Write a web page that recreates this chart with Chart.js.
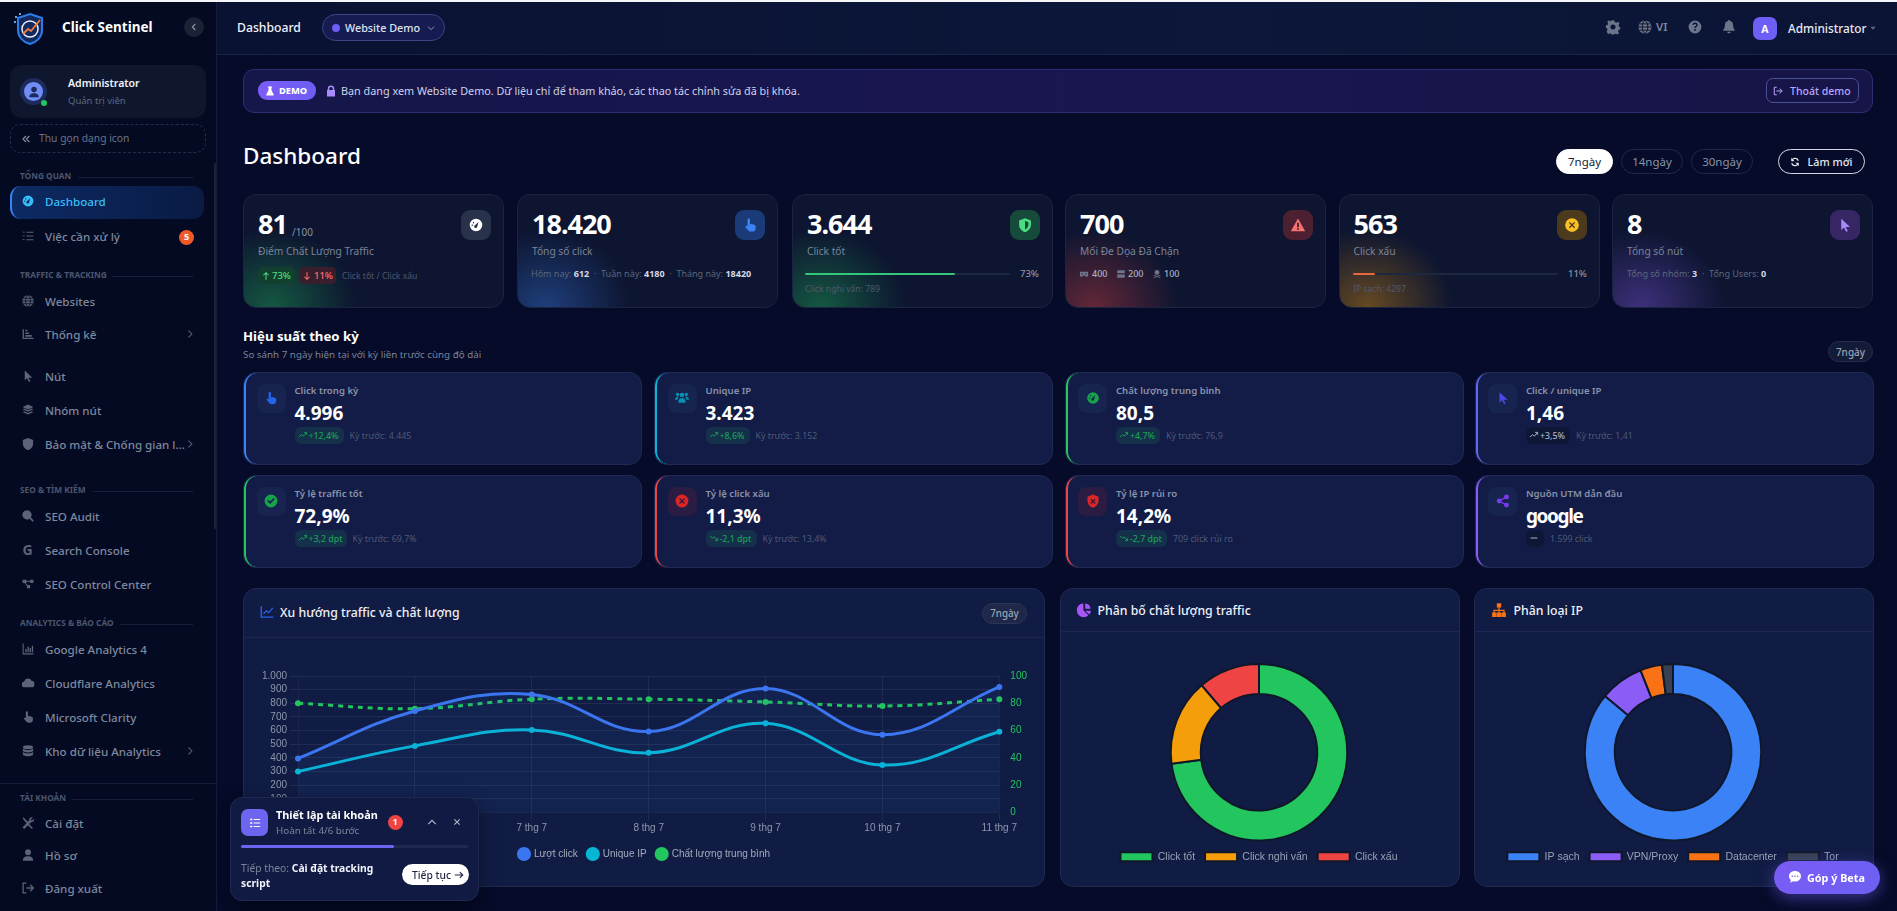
<!DOCTYPE html>
<html lang="vi">
<head>
<meta charset="utf-8">
<title>Dashboard - Click Sentinel</title>
<script src="https://cdn.jsdelivr.net/npm/chart.js@4/dist/chart.umd.min.js"></script>
<style>
* { box-sizing: border-box; }
html, body { margin: 0; height: 100%; overflow: hidden; background: #050b28; font-family: "Noto Sans", sans-serif; color: #fff; }
#app { position: relative; width: 1897px; height: 911px; overflow: hidden; border-top: 2px solid #f4f6fa; }
#page { position: absolute; left: 0; top: -2px; width: 1897px; height: 911px; }
.box { position: absolute; }
.t { position: absolute; white-space: nowrap; transform: translateY(-50%); line-height: 1.2; }
.ic { position: absolute; transform: translate(-50%, -50%); display: block; }
#side { position: absolute; left: 0; top: 0; width: 217px; height: 911px; background: #040a22; border-right: 1px solid #141c3a; }
#head { position: absolute; left: 217px; top: 0; width: 1680px; height: 55px; background: linear-gradient(90deg, #0a1233, #0c1739 60%, #0b1435); border-bottom: 1px solid #1a2448; }
.kpi { background: #0d1530; border: 1px solid #1a2340; border-radius: 13px; overflow: hidden; }
.perf { background: #121c46; border: 1px solid #1f2a54; border-radius: 13px; overflow: hidden; }
.perf .edge { position: absolute; left: 0; top: 0; bottom: 0; width: 13px; border-left: 2px solid; border-radius: 13px 0 0 13px; }
.card { background: #111c44; border: 1px solid #1f2952; border-radius: 13px; }
.pill { position: absolute; border-radius: 14px; border: 1px solid #1f2947; color: #8b94a8; display: flex; align-items: center; justify-content: center; font-size: 11.5px; }
canvas { display: block; }
</style>
</head>
<body>
<div id="app"><div id="page">
  <div id="side"></div>
  <div id="head"></div>
  <div id="main"></div>
  <div class="box" style="left:1059px;top:663px;width:400px;height:209px;z-index:3"><canvas id="qualityChart"></canvas></div>
  <div class="box" style="left:1473px;top:663px;width:400px;height:209px;z-index:3"><canvas id="ipChart"></canvas></div>
  <div class="box" style="left:258.5px;top:667px;width:771px;height:202px;z-index:3"><canvas id="trendChart"></canvas></div>
  <div id="over"></div>
</div></div>

<script>
// chart data
const trendDays = ["5 thg 7", "6 thg 7", "7 thg 7", "8 thg 7", "9 thg 7", "10 thg 7", "11 thg 7"];
const clickValues = [396, 744, 865, 593, 908, 570, 920];
const uniqueValues = [300, 488, 605, 437, 653, 348, 592];
const qualityValues = [80, 76, 83, 83, 81, 78, 83];

const qualityLabels = ["Click tốt", "Click nghi vấn", "Click xấu"];
const qualityCounts = [3644, 789, 563];
const qualityColors = ["#22c55e", "#f59e0b", "#ef4444"];

const ipLabels = ["IP sạch", "VPN/Proxy", "Datacenter", "Tor"];
const ipCounts = [4297, 400, 200, 100];
const ipColors = ["#3b82f6", "#8b5cf6", "#f97316", "#374151"];

// icons
const ICONS = {
  gauge: '<path fill-rule="evenodd" d="M12 2a10 10 0 1 0 0 20 10 10 0 0 0 0-20zm1.8 13a2.4 2.4 0 1 1-3-3L16 7zM6 11a1.2 1.2 0 1 1 0 2.4A1.2 1.2 0 0 1 6 11zm2-4a1.2 1.2 0 1 1 0 2.4A1.2 1.2 0 0 1 8 7z"/>',
  tasks: '<path d="M2 4h4v1.6H2zM2 11h4v1.6H2zM2 18h4v1.6H2zM9 4h13v2H9zM9 11h13v2H9zM9 18h13v2H9z"/>',
  globe: '<circle cx="12" cy="12" r="10.5"/><path fill="none" stroke="#050a23" stroke-width="1.4" d="M1 12h22M12 1c-6 6-6 16 0 22M12 1c6 6 6 16 0 22M3 7h18M3 17h18"/>',
  chart: '<path d="M2 3h2.5v16H22v2.4H2zM7 14h12v3H7zM7 9h7v3H7zM7 4h4v3H7z"/>',
  cursor: '<path d="M6 2l14 13h-7l3.6 6.5-2.8 1.4L10.4 16 6 20z"/>',
  layers: '<path d="M12 2l10 4.6-10 4.6L2 6.6zM2 10.5l3-1.3 7 3.2 7-3.2 3 1.3-10 4.6zM2 15.5l3-1.3 7 3.2 7-3.2 3 1.3-10 5z"/>',
  shield: '<path d="M12 1l9.5 3.6V11c0 6-4 10.5-9.5 12.5C6.5 21.5 2.5 17 2.5 11V4.6z"/>',
  search: '<path fill-rule="evenodd" d="M10 1.5a8.5 8.5 0 1 0 5 15.4l5.5 5.6 2.3-2.3-5.6-5.5A8.5 8.5 0 0 0 10 1.5z"/>',
  nodes: '<path d="M2 4h7v6H2zM16 4h6v6h-6zM10 14h6v6h-6zM8 6h9v2H8zM7 9l5 6-1.5 1-5-6z"/>',
  bars: '<path d="M2 2h2v18h18v2H2zM7 12h2.5v6H7zM11 8h2.5v10H11zM15 10h2.5v8H15zM19 6h2.5v12H19z"/>',
  cloud: '<path d="M6 20a5.5 5.5 0 0 1-1-10.9A7 7 0 0 1 18.4 8 6 6 0 0 1 18 20z"/>',
  hand: '<path d="M10 1.5a2 2 0 0 1 2 2V11l1-.2c.8-1 2.4-.8 3 .2.9-.6 2.4-.2 2.8 1 1.2-.2 2.2.6 2.2 2v3c0 3.5-2 5.5-5 5.5h-3c-2 0-3.2-.8-4.2-2l-4-5c-1-1.4.8-3 2.2-2L8 14.5v-11a2 2 0 0 1 2-2z"/>',
  database: '<ellipse cx="12" cy="5" rx="9.5" ry="3.5"/><path d="M2.5 7.5c2 3.5 17 3.5 19 0V12c-2 3.5-17 3.5-19 0zM2.5 14c2 3.5 17 3.5 19 0v4.5c-2 4.5-17 4.5-19 0z"/>',
  tools: '<path d="M3 1l7 7 1.5 1.5 3-3C14 3 17 .5 21 2l-4 4 2 2 4-4c1 4-2 7-5.5 6.5L14 14l7 7-2 2-7-7-7 7-3-3 7.5-7.5L3 5z"/>',
  user: '<circle cx="12" cy="7" r="5.5"/><path d="M2.5 22.5c0-6 4-8 9.5-8s9.5 2 9.5 8z"/>',
  logout: '<path fill="none" stroke="currentColor" stroke-width="2.4" d="M9 3H3v18h6M9 12h13M16 6l6 6-6 6"/>',
  chevR: '<path fill="none" stroke="currentColor" stroke-width="2.8" d="M8 3l9 9-9 9"/>',
  chevL: '<path fill="none" stroke="currentColor" stroke-width="3.2" d="M16 3l-9 9 9 9"/>',
  chevU: '<path fill="none" stroke="currentColor" stroke-width="3" d="M3 17l9-9 9 9"/>',
  chevD: '<path fill="none" stroke="currentColor" stroke-width="3" d="M3 8l9 9 9-9"/>',
  dbl: '<path fill="none" stroke="currentColor" stroke-width="3" d="M12 4l-8 8 8 8M21 4l-8 8 8 8"/>',
  close: '<path fill="none" stroke="currentColor" stroke-width="3.4" d="M4 4l16 16M20 4L4 20"/>',
  caret: '<path d="M3 8h18l-9 10z"/>',
  gear: '<path fill-rule="evenodd" d="M10 1h4l.6 3 2.6 1.1L20 3.4l2.6 3.1-1.8 2.5.8 2.5 2.4.8v3.4l-2.9.8-1 2.5 1.6 2.7-2.8 2.6-2.6-1.6-2.3.9-.6 2.4h-3.4l-.7-2.9-2.4-1-2.6 1.6L1.7 19l1.6-2.6-1-2.4-1.9-.7V9.700l2.900-.8 1-2.500L2.700 3.800l2.800-2.600L8.100 3zM12 8a4 4 0 1 0 0 8 4 4 0 0 0 0-8z"/>',
  question: '<path fill-rule="evenodd" d="M12 1a11 11 0 1 0 0 22 11 11 0 0 0 0-22zm-1.4 14.500h2.800v2.800h-2.800zm0-2c0-3 3.400-3.100 3.400-5 0-2.400-3.600-2.300-4 .2L7.600 8c.7-5 8.900-5 8.900.5 0 3-3.300 3.300-3.300 5z"/>',
  bell: '<path d="M12 0c1 0 1.8.8 1.8 1.800C17 2.500 19 5 19 8.500c0 5 1.500 6.500 3 8.500v1.500H2V17c1.500-2 3-3.500 3-8.500 0-3.500 2-6 5.200-6.700C10.200.8 11 0 12 0zM9 20h6c0 3.800-6 3.800-6 0z"/>',
  lock: '<path fill-rule="evenodd" d="M12 1a6.500 6.500 0 0 0-6.500 6.500V10H4v13h16V10h-1.500V7.500A6.500 6.500 0 0 0 12 1zm0 3a3.500 3.500 0 0 1 3.500 3.500V10h-7V7.500A3.500 3.500 0 0 1 12 4z"/>',
  flask: '<path d="M7 1h10v2.500h-1.500v6L21 21c.4 1.200-.3 2-1.500 2h-15c-1.200 0-1.900-.8-1.500-2L8.500 9.500v-6H7z"/>',
  exit: '<path fill="none" stroke="currentColor" stroke-width="2.400" d="M9 3H3v18h6M8 12h14M16 6l6 6-6 6"/>',
  refresh: '<path fill="none" stroke="currentColor" stroke-width="3" d="M20 9A8.500 8.500 0 0 0 5 7M4 15a8.500 8.500 0 0 0 15 2"/><path d="M3 2v8h8zM21 22v-8h-8z"/>',
  up: '<path fill="none" stroke="currentColor" stroke-width="2.800" d="M12 22V3M5 10l7-7 7 7"/>',
  down: '<path fill="none" stroke="currentColor" stroke-width="2.800" d="M12 2v19M5 14l7 7 7-7"/>',
  trendUp: '<path fill="none" stroke="currentColor" stroke-width="2.600" d="M1 18l7-7 5 4 8-9M15 5h7v7"/>',
  trendDown: '<path fill="none" stroke="currentColor" stroke-width="2.600" d="M1 6l7 7 5-4 8 9M15 19h7v-7"/>',
  minus: '<path d="M3 10.500h18v3H3z"/>',
  warn: '<path fill-rule="evenodd" d="M12 1.500L23.500 22H.5zm-1.500 7v7h3v-7zm0 8.500v2.500h3V17z"/>',
  check: '<path fill-rule="evenodd" d="M12 1a11 11 0 1 0 0 22 11 11 0 0 0 0-22zm-1.600 16l-5-5 2-2 3 3 6-6 2 2z"/>',
  cross: '<path fill-rule="evenodd" d="M12 1a11 11 0 1 0 0 22 11 11 0 0 0 0-22zM8.500 7L12 10.500 15.500 7 17 8.500 13.500 12l3.500 3.500-1.500 1.500-3.500-3.500L8.500 17 7 15.500l3.500-3.500L7 8.500z"/>',
  shieldOk: '<path fill-rule="evenodd" d="M12 1l9.500 3.600V11c0 6-4 10.500-9.500 12.500C6.500 21.500 2.500 17 2.500 11V4.600zM12 5v14c3-1.500 5.500-4 5.500-8V7.500z"/>',
  shieldBad: '<path fill-rule="evenodd" d="M12 1l9.500 3.600V11c0 6-4 10.500-9.500 12.500C6.500 21.500 2.500 17 2.500 11V4.600zM9 8l-1.500 1.500 3 3-3 3L9 17l3-3 3 3 1.500-1.500-3-3 3-3L15 8l-3 3z"/>',
  users: '<circle cx="12" cy="7" r="3.800"/><circle cx="4.500" cy="6" r="2.800"/><circle cx="19.500" cy="6" r="2.800"/><path d="M6 20v-3c0-3 3-5 6-5s6 2 6 5v3zM0 15c0-3 2-5 5-5 .7 0 1.200.1 1.800.4C5 12 4.500 13 4.500 15zM24 15c0-3-2-5-5-5-.7 0-1.200.1-1.800.4 1.800 1.600 2.300 2.600 2.300 4.600z"/>',
  share: '<circle cx="18" cy="5" r="4.200"/><circle cx="5.500" cy="12" r="4.200"/><circle cx="18" cy="19" r="4.200"/><path fill="none" stroke="currentColor" stroke-width="2.200" d="M18 5L5.500 12 18 19"/>',
  mask: '<path fill-rule="evenodd" d="M1 6h22v9c0 3-2 4-4 4-3 0-4-3-7-3s-4 3-7 3c-2 0-4-1-4-4zm6 4a2 2 0 1 0 0 4 2 2 0 0 0 0-4zm10 0a2 2 0 1 0 0 4 2 2 0 0 0 0-4z"/>',
  server: '<path d="M2 2h20v8H2zM2 13h20v9H2z"/>',
  skull: '<circle cx="12" cy="8" r="6.500"/><path fill="none" stroke="currentColor" stroke-width="2.200" d="M3 15l18 7M21 15L3 22"/>',
  pie: '<path d="M11 1.500v11l8 8A11 11 0 1 1 11 1.500zM14 1.500A9.500 9.500 0 0 1 22.500 10H14zM23 13a10 10 0 0 1-2.500 6L14 13z"/>',
  sitemap: '<path d="M8.500 1h7v7h-7zM1 16h7v7H1zM8.500 16h7v7h-7zM16 16h7v7h-7zM11 8h2v3.500h8V16h-2v-2.500h-6V16h-2v-2.500H5V16H3v-4.500h8z"/>',
  line: '<path d="M1 2h2.400v17.500H23V22H1z"/><path fill="none" stroke="currentColor" stroke-width="2.200" d="M6 15l5-5 4 3 7-8"/>',
  comment: '<path fill-rule="evenodd" d="M12 1C5.500 1 1 5 1 10.500c0 3 1.300 5.500 3.500 7L3 22.500l5.500-2.500c1 .3 2.300.5 3.500.5 6.500 0 11-4.500 11-10S18.500 1 12 1zM7 9a1.500 1.500 0 1 0 0 3 1.500 1.500 0 0 0 0-3zm5 0a1.500 1.500 0 1 0 0 3 1.500 1.500 0 0 0 0-3zm5 0a1.500 1.500 0 1 0 0 3 1.500 1.500 0 0 0 0-3z"/>',
  arrow: '<path fill="none" stroke="currentColor" stroke-width="2.600" d="M2 12h19M14 5l7 7-7 7"/>',
  list: '<path d="M3 4h4v3H3zM3 10.500h4v3H3zM3 17h4v3H3zM9.500 4.500h12v2h-12zM9.500 11h12v2h-12zM9.500 17.500h12v2h-12z"/>'
};

function icon(name, x, y, size, color) {
  return `<svg class="ic" style="left:${x}px;top:${y}px;color:${color}" width="${size}" height="${size}" viewBox="0 0 24 24" fill="currentColor">${ICONS[name]}</svg>`;
}

function text(str, x, y, size, color, weight, extra) {
  return `<div class="t" style="left:${x}px;top:${y}px;font-size:${size}px;color:${color};font-weight:${weight || 400};${extra || ""}">${str}</div>`;
}

function rect(x, y, w, h, style) {
  return `<div class="box" style="left:${x}px;top:${y}px;width:${w}px;height:${h}px;${style || ""}"></div>`;
}

// sidebar
const menuGroups = [
  { title: "TỔNG QUAN", y: 176, lineFrom: 78 },
  { title: "TRAFFIC &amp; TRACKING", y: 275, lineFrom: 112 },
  { title: "SEO &amp; TÌM KIẾM", y: 490, lineFrom: 92 },
  { title: "ANALYTICS &amp; BÁO CÁO", y: 623, lineFrom: 120 },
  { title: "TÀI KHOẢN", y: 798, lineFrom: 72 }
];
const menuItems = [
  ["tasks", "Việc cần xử lý", 237], ["globe", "Websites", 302], ["chart", "Thống kê", 335, 1], ["cursor", "Nút", 377],
  ["layers", "Nhóm nút", 411], ["shield", "Bảo mật &amp; Chống gian l...", 445, 1], ["search", "SEO Audit", 517],
  [null, "Search Console", 551], ["nodes", "SEO Control Center", 585], ["bars", "Google Analytics 4", 650],
  ["cloud", "Cloudflare Analytics", 684], ["hand", "Microsoft Clarity", 718], ["database", "Kho dữ liệu Analytics", 752, 1],
  ["tools", "Cài đặt", 824], ["user", "Hồ sơ", 856], ["logout", "Đăng xuất", 889]
];

let side = "";
side += `<svg class="ic" style="left:30px;top:29px" width="34" height="36" viewBox="0 0 34 36">
  <path d="M17 3l12 4v12c0 7-5 12-12 14C10 31 5 26 5 19V7z" fill="#12295e" stroke="#2b7de9" stroke-width="2"/>
  <circle cx="17" cy="18" r="8" fill="none" stroke="#e8eef9" stroke-width="1.5"/>
  <path d="M10 23l5-5 3 2 9-11" fill="none" stroke="#f2793a" stroke-width="1.8"/>
  <path d="M2 5h2v2H2zM6 2h2v2H6zM1 10h2v2H1z" fill="#5aa7f0"/></svg>`;
side += text("Click Sentinel", 62, 27, 13.5, "#fff", 700);
side += rect(184, 17, 20, 20, "border-radius:50%;background:#1b2236");
side += icon("chevL", 194, 27, 8, "#8f98ac");
side += rect(10, 65, 196, 53, "border-radius:12px;background:#0f172e");
side += rect(20, 78, 27, 27, "border-radius:50%;background:#1d2a5c");
side += rect(24, 82, 19, 19, "border-radius:50%;background:#6f8df5");
side += icon("user", 33.5, 91.5, 12, "#1d2a5c");
side += rect(41, 100, 6, 6, "border-radius:50%;background:#22c55e");
side += text("Administrator", 68, 83, 10.5, "#f1f4fa", 600);
side += text("Quản trị viên", 68, 101, 9.5, "#5e6880");
side += rect(10, 124, 196, 29, "border-radius:10px;border:1px dashed #252e49");
side += icon("dbl", 26, 138.5, 9, "#8a93a8");
side += text("Thu gọn dạng icon", 39, 137.5, 10.3, "#6b7489");

menuGroups.forEach(g => {
  side += text(g.title, 20, g.y, 8.3, "#4c566e", 700);
  side += rect(g.lineFrom, g.y + 0.5, 193 - g.lineFrom, 1, "background:#161e38");
});
side += rect(0, 783, 216, 1, "background:#141c36");
side += rect(10, 186, 194, 33, "border-radius:11px;background:linear-gradient(90deg,#0c2a63,#0a1b44);border-left:2px solid #3b82f6");
side += icon("gauge", 28, 201, 13, "#38bdf8");
side += text("Dashboard", 45, 202, 11.6, "#38bdf8", 500);
menuItems.forEach(m => {
  if (m[0]) side += icon(m[0], 28, m[2] - 1, 13, "#5b6478");
  else side += text("G", 22.5, m[2] - 1, 14, "#5b6478", 700);
  side += text(m[1], 45, m[2] - 0.5, 11.6, "#7e889e", 500);
  if (m[3]) side += icon("chevR", 190, m[2] - 1, 9, "#5b6478");
});
side += rect(179, 230, 15, 15, "border-radius:50%;background:#f2592a");
side += `<div class="t" style="left:179px;width:15px;text-align:center;top:237px;font-size:9px;font-weight:700;color:#fff">5</div>`;
side += rect(213.5, 163, 2, 366, "background:#1c2338;border-radius:1px");
document.getElementById("side").innerHTML = side;

// top bar
let main = "";
main += text("Dashboard", 237, 27.5, 12.2, "#eef1f8", 500);
main += rect(322, 14, 123, 27, "border-radius:14px;border:1px solid #3b4685;background:#161c52");
main += rect(332, 24, 8, 8, "border-radius:50%;background:#6d5ef5");
main += text("Website Demo", 345, 28, 10.8, "#dfe3f1", 500);
main += icon("chevD", 431, 28, 8, "#8e97b2");
main += icon("gear", 1613, 27, 15, "#6b7589");
main += icon("globe", 1645, 27, 15, "#6b7589");
main += text("VI", 1656, 27, 11.5, "#7d869a", 600);
main += icon("question", 1695, 27, 14, "#6b7589");
main += icon("bell", 1729, 27, 14, "#6b7589");
main += rect(1753, 17, 24, 23, "border-radius:7px;background:#6d5ef5");
main += `<div class="t" style="left:1753px;width:24px;text-align:center;top:28.5px;font-size:10.5px;font-weight:700;color:#fff">A</div>`;
main += text("Administrator", 1788, 28, 11.8, "#e6e9f2", 500);
main += icon("caret", 1873, 28, 7, "#5e6880");

// demo banner
main += rect(243, 69, 1630, 44, "border-radius:11px;border:1px solid #2c2f74;background:linear-gradient(90deg,#15164a,#1a1650 50%,#171447)");
main += rect(258, 81, 58, 19, "border-radius:9px;background:linear-gradient(90deg,#7c5cf6,#6d5ef5)");
main += icon("flask", 270, 91, 10, "#fff");
main += text("DEMO", 279, 90.5, 9.3, "#fff", 800);
main += icon("lock", 331, 91, 12, "#a78bfa");
main += text("Bạn đang xem Website Demo. Dữ liệu chỉ để tham khảo, các thao tác chỉnh sửa đã bị khóa.", 341, 91, 10.8, "#cfd3ea");
main += rect(1766, 78, 93, 25, "border-radius:7px;border:1px solid #4a4f96");
main += icon("exit", 1778, 90.5, 10, "#b9a7fb");
main += text("Thoát demo", 1790, 90.5, 10.5, "#b9a7fb", 500);

// title row
main += text("Dashboard", 243, 155, 22.5, "#fff", 500);
const rangeButtons = [["7ngày", 1556, 57, true], ["14ngày", 1621, 62], ["30ngày", 1691, 62]];
rangeButtons.forEach(r => {
  main += `<div class="pill" style="left:${r[1]}px;top:149px;width:${r[2]}px;height:25px;${r[3] ? "background:#fff;color:#1a2138;border-color:#fff" : ""}">${r[0]}</div>`;
});
main += `<div class="pill" style="left:1778px;top:149px;width:87px;height:25px;color:#e6e9f2;border-color:#d5d9e4;font-size:10.8px;font-weight:500;padding-left:17px">Làm mới</div>`;
main += icon("refresh", 1795, 162, 10, "#e6e9f2");

// kpi row
const kpiCards = [
  { x: 243, value: "81", label: "Điểm Chất Lượng Traffic", icon: "gauge", glow: "34,197,94", iconBg: "#28324a", iconColor: "#fff" },
  { x: 517, value: "18.420", label: "Tổng số click", icon: "hand", glow: "59,130,246", iconBg: "#1b3a78", iconColor: "#3b82f6" },
  { x: 792, value: "3.644", label: "Click tốt", icon: "shieldOk", glow: "34,197,94", iconBg: "#164a3a", iconColor: "#4ade80" },
  { x: 1065, value: "700", label: "Mối Đe Dọa Đã Chặn", icon: "warn", glow: "239,68,68", iconBg: "#4c2030", iconColor: "#f87171" },
  { x: 1338.5, value: "563", label: "Click xấu", icon: "cross", glow: "245,158,11", iconBg: "#4b3a1c", iconColor: "#fbbf24" },
  { x: 1612, value: "8", label: "Tổng số nút", icon: "cursor", glow: "139,92,246", iconBg: "#362764", iconColor: "#a78bfa" }
];
kpiCards.forEach(c => {
  main += `<div class="box kpi" style="left:${c.x}px;top:194px;width:261px;height:114px;background-image:radial-gradient(85px 78px at 28px 100%,rgba(${c.glow},.38),rgba(${c.glow},0))"></div>`;
  main += text(c.value, c.x + 15, 224, 27, "#fff", 700, "letter-spacing:-1px");
  main += text(c.label, c.x + 15, 250.5, 10.2, "#7b8499");
  main += rect(c.x + 218, 210, 30, 30, `border-radius:9px;background:${c.iconBg}`);
  main += icon(c.icon, c.x + 233, 225, 15, c.iconColor);
});
main += text("/100", 292, 232, 10, "#8a93a8");
main += rect(258, 267, 37, 17, "border-radius:5px;background:#11402f");
main += icon("up", 266, 275.5, 9, "#4ade80");
main += text("73%", 272, 275.5, 9.5, "#4ade80", 500);
main += rect(299, 267, 37, 17, "border-radius:5px;background:#3a1e2c");
main += icon("down", 307, 275.5, 9, "#f87171");
main += text("11%", 314, 275.5, 9.5, "#f87171", 500);
main += text("Click tốt / Click xấu", 342, 276, 8.6, "#4f586e");
main += `<div class="t" style="left:531px;top:273.5px;font-size:9px;color:#5c667c">Hôm nay: <b style="color:#d5d9e4">612</b> &nbsp;·&nbsp; Tuần này: <b style="color:#d5d9e4">4180</b> &nbsp;·&nbsp; Tháng này: <b style="color:#d5d9e4">18420</b></div>`;
main += rect(805, 273, 205, 2, "background:#1e2740;border-radius:1px");
main += rect(805, 273, 150, 2, "background:#34c77b;border-radius:1px");
main += text("73%", 1020, 274, 9.5, "#8a93a8", 500);
main += text("Click nghi vấn: 789", 805, 288.5, 8.6, "#4f586e");
const threatParts = [["mask", 1084, "400", 1092], ["server", 1121, "200", 1128], ["skull", 1157, "100", 1164]];
threatParts.forEach(p => {
  main += icon(p[0], p[1], 273.5, 9, "#6b7589");
  main += text(p[2], p[3], 273.5, 9, "#aab2c2", 500);
});
main += rect(1353, 273, 205, 2, "background:#1e2740;border-radius:1px");
main += rect(1353, 273, 22, 2, "background:#e8683f;border-radius:1px");
main += text("11%", 1568, 274, 9.5, "#8a93a8", 500);
main += text("IP sạch: 4297", 1353, 288.5, 8.6, "#4f586e");
main += `<div class="t" style="left:1627px;top:273.5px;font-size:9px;color:#5c667c">Tổng số nhóm: <b style="color:#d5d9e4">3</b> &nbsp;·&nbsp; Tổng Users: <b style="color:#d5d9e4">0</b></div>`;

// period section
main += text("Hiệu suất theo kỳ", 243, 337, 13.2, "#fff", 700);
main += text("So sánh 7 ngày hiện tại với kỳ liền trước cùng độ dài", 243, 355, 9.8, "#7b8499");
main += `<div class="pill" style="left:1828px;top:341px;width:45px;height:21px;background:#141b38;border-color:#252d4d;font-size:10px;font-weight:500;color:#9aa3b6">7ngày</div>`;

const perfCards = [
  { x: 243, y: 372, color: "#3b82f6", icon: "hand", iconColor: "#2563eb", label: "Click trong kỳ", value: "4.996", chip: "+12,4%", chipW: 49, sub: "Kỳ trước: 4.445", dir: "trendUp" },
  { x: 654, y: 372, color: "#06b6d4", icon: "users", iconColor: "#0891b2", label: "Unique IP", value: "3.423", chip: "+8,6%", chipW: 44, sub: "Kỳ trước: 3.152", dir: "trendUp" },
  { x: 1064.5, y: 372, color: "#22c55e", icon: "gauge", iconColor: "#16a34a", label: "Chất lượng trung bình", value: "80,5", chip: "+4,7%", chipW: 44, sub: "Kỳ trước: 76,9", dir: "trendUp" },
  { x: 1474.5, y: 372, color: "#6366f1", icon: "cursor", iconColor: "#4f46e5", label: "Click / unique IP", value: "1,46", chip: "+3,5%", chipW: 44, sub: "Kỳ trước: 1,41", dir: "trendUp", flat: true },
  { x: 243, y: 475, color: "#22c55e", icon: "check", iconColor: "#16a34a", label: "Tỷ lệ traffic tốt", value: "72,9%", chip: "+3,2 dpt", chipW: 52, sub: "Kỳ trước: 69,7%", dir: "trendUp" },
  { x: 654, y: 475, color: "#ef4444", icon: "cross", iconColor: "#dc2626", label: "Tỷ lệ click xấu", value: "11,3%", chip: "-2,1 dpt", chipW: 51, sub: "Kỳ trước: 13,4%", dir: "trendDown" },
  { x: 1064.5, y: 475, color: "#ef4444", icon: "shieldBad", iconColor: "#dc2626", label: "Tỷ lệ IP rủi ro", value: "14,2%", chip: "-2,7 dpt", chipW: 51, sub: "709 click rủi ro", dir: "trendDown" },
  { x: 1474.5, y: 475, color: "#8b5cf6", icon: "share", iconColor: "#7c3aed", label: "Nguồn UTM dẫn đầu", value: "google", chip: "", chipW: 18, sub: "1.599 click", dir: "minus", flat: true }
];
perfCards.forEach(c => {
  main += `<div class="box perf" style="left:${c.x}px;top:${c.y}px;width:399px;height:93px"><div class="edge" style="border-left-color:${c.color}"></div></div>`;
  const iconBg = c.color === "#ef4444" ? "#2a1c42" : "#16244f";
  main += rect(c.x + 13.5, c.y + 12, 29, 29, `border-radius:8px;background:${iconBg}`);
  main += icon(c.icon, c.x + 28, c.y + 26, 14, c.iconColor);
  main += text(c.label, c.x + 51.5, c.y + 19, 9.6, "#8a93ab", 600);
  main += text(c.value, c.x + 51.5, c.y + 40.5, 19, "#fff", 700, c.value === "google" ? "letter-spacing:-1.4px" : "");
  const chipBg = c.flat ? "#0f1736" : "#14304a";
  const chipColor = c.flat ? "#aab2c6" : "#1e9e58";
  main += rect(c.x + 51.5, c.y + 55, c.chipW, 17, `border-radius:6px;background:${chipBg}`);
  main += icon(c.dir, c.x + 59.5, c.y + 63, 9, chipColor);
  if (c.chip) main += text(c.chip, c.x + 65.5, c.y + 63.5, 8.8, chipColor, 500);
  main += text(c.sub, c.x + 51.5 + c.chipW + 6, c.y + 63.5, 8.8, "#4f5a78");
});

// chart cards
main += `<div class="box card" style="left:243px;top:588px;width:802px;height:299px"></div>`;
main += rect(244, 637, 800, 1, "background:#1c2650");
main += icon("line", 267, 612, 14, "#2563eb");
main += text("Xu hướng traffic và chất lượng", 280, 613, 12.3, "#eef1f8", 500);
main += `<div class="pill" style="left:982px;top:603px;width:45px;height:21px;background:#1f2848;border-color:#2c3558;font-size:9.8px;font-weight:500;color:#9aa3b6">7ngày</div>`;

main += `<div class="box card" style="left:1059.5px;top:588px;width:400px;height:299px"></div>`;
main += rect(1060, 631, 399, 1, "background:#1c2650");
main += icon("pie", 1084, 610, 15, "#a855f7");
main += text("Phân bố chất lượng traffic", 1097.5, 611, 12.3, "#eef1f8", 500);

main += `<div class="box card" style="left:1473.5px;top:588px;width:400px;height:299px"></div>`;
main += rect(1474, 631, 399, 1, "background:#1c2650");
main += icon("sitemap", 1499, 610, 15, "#f97316");
main += text("Phân loại IP", 1513.5, 611, 12.3, "#eef1f8", 500);
document.getElementById("main").innerHTML = main;

// setup popup and feedback button
let pop = "";
pop += `<div class="box" style="left:230px;top:797px;width:249px;height:104px;border-radius:12px;background:#111a42;border:1px solid #1f2950;box-shadow:0 6px 18px rgba(0,0,0,.4)"></div>`;
pop += rect(241, 809, 27, 27, "border-radius:7px;background:#6d64ef");
pop += icon("list", 254.5, 822.5, 13, "#fff");
pop += text("Thiết lập tài khoản", 276, 815, 10.9, "#fff", 700);
pop += text("Hoàn tất 4/6 bước", 276, 830.5, 9.8, "#7b8499");
pop += rect(387.5, 814.5, 15, 15, "border-radius:50%;background:#ef4444");
pop += `<div class="t" style="left:387.5px;width:15px;text-align:center;top:822px;font-size:9px;font-weight:700;color:#fff">1</div>`;
pop += icon("chevU", 432, 822, 10, "#aeb5c6");
pop += icon("close", 457, 822, 8, "#aeb5c6");
pop += rect(241, 845, 227, 3, "border-radius:2px;background:#1f2950");
pop += rect(241, 845, 153, 3, "border-radius:2px;background:#6d64ef");
pop += `<div class="t" style="left:241px;top:867.5px;font-size:10.3px;color:#7b8499">Tiếp theo: <b style="color:#f1f4fa;font-weight:700">Cài đặt tracking</b></div>`;
pop += text("script", 241, 882.5, 10.3, "#f1f4fa", 700);
pop += rect(402, 864, 67, 21, "border-radius:11px;background:#fff");
pop += text("Tiếp tục", 412, 874.5, 10.3, "#1f2740", 500);
pop += icon("arrow", 459, 874.5, 10, "#1f2740");
pop += `<div class="box" style="left:1774px;top:861px;width:106px;height:33px;border-radius:17px;background:linear-gradient(90deg,#7a5cf5,#6d60f2);box-shadow:0 4px 16px rgba(109,94,245,.5)"></div>`;
pop += icon("comment", 1795, 877, 13, "#fff");
pop += text("Góp ý Beta", 1807, 877.5, 10.8, "#fff", 700);
document.getElementById("over").style.cssText = "position:absolute;left:0;top:0;z-index:6";
document.getElementById("over").innerHTML = pop;

// charts
Chart.defaults.font.family = '"Liberation Sans", Arial, sans-serif';
Chart.defaults.animation = false;

new Chart(document.getElementById("trendChart"), {
  type: "line",
  data: {
    labels: trendDays,
    datasets: [
      { label: "Lượt click", data: clickValues, borderColor: "#3b76f0", backgroundColor: "rgba(59,130,246,0.07)", fill: true, tension: 0.4, borderWidth: 3, pointRadius: 3, pointBackgroundColor: "#3b76f0", pointBorderWidth: 0, yAxisID: "y" },
      { label: "Unique IP", data: uniqueValues, borderColor: "#06b6d4", backgroundColor: "rgba(6,182,212,0.01)", fill: true, tension: 0.4, borderWidth: 3, pointRadius: 3, pointBackgroundColor: "#06b6d4", pointBorderWidth: 0, yAxisID: "y" },
      { label: "Chất lượng trung bình", data: qualityValues, borderColor: "#22c55e", backgroundColor: "#22c55e", borderDash: [5, 5], fill: false, tension: 0.4, borderWidth: 3, pointRadius: 3, pointBackgroundColor: "#22c55e", pointBorderWidth: 0, yAxisID: "y1" }
    ]
  },
  options: {
    responsive: true,
    maintainAspectRatio: false,
    plugins: {
      legend: { position: "bottom", labels: { usePointStyle: true, color: "#a3abbc", font: { size: 10 } } },
      tooltip: { enabled: false }
    },
    scales: {
      x: {
        grid: { color: "rgba(148,163,184,0.1)" },
        ticks: { color: "#8d96aa", font: { size: 10 }, maxRotation: 0, padding: 2 },
        afterFit: scale => { scale.height += 2.5; }
      },
      y: {
        position: "left", min: 0, max: 1000,
        grid: { color: "rgba(148,163,184,0.12)" },
        ticks: { stepSize: 100, autoSkip: false, color: "#8d96aa", font: { size: 10 }, callback: v => v.toLocaleString("vi-VN") }
      },
      y1: {
        position: "right", min: 0, max: 100,
        grid: { drawOnChartArea: false },
        ticks: { stepSize: 20, color: "#22c55e", font: { size: 10 } }
      }
    }
  }
});

function donut(id, labels, counts, colors) {
  new Chart(document.getElementById(id), {
    type: "doughnut",
    data: { labels: labels, datasets: [{ data: counts, backgroundColor: colors, borderColor: "#0f172a", borderWidth: 2 }] },
    options: {
      responsive: true,
      maintainAspectRatio: false,
      cutout: "66%",
      plugins: {
        legend: { position: "bottom", labels: { boxWidth: 32, boxHeight: 9, color: "#98a1b4", font: { size: 10.5 } } },
        tooltip: { enabled: false }
      }
    }
  });
}
donut("qualityChart", qualityLabels, qualityCounts, qualityColors);
donut("ipChart", ipLabels, ipCounts, ipColors);
</script>
</body>
</html>
